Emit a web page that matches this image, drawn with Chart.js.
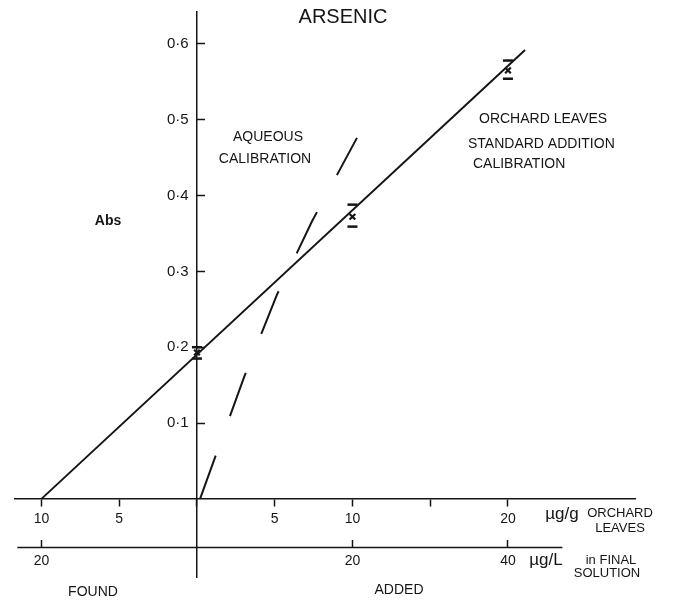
<!DOCTYPE html>
<html>
<head>
<meta charset="utf-8">
<script src="https://cdn.jsdelivr.net/npm/chart.js@4.4.1/dist/chart.umd.min.js"></script>
<style>
  body { margin: 0; background: #fff; }
</style>
</head>
<body>
<canvas id="mycanvas" width="675" height="603"></canvas>
<script>
// orchard leaves standard addition (µg/g added, Abs)
var lineX = [-10, 21.1];
var lineY = [0, 0.592];

// measured points with error bar ends
var pointX = [0, 10, 20];
var pointY = [0.193, 0.372, 0.565];
var pointHigh = [0.200, 0.388, 0.578];
var pointLow = [0.185, 0.359, 0.554];

// aqueous calibration (dashed)
var aqueousX = [0.2, 3.02, 5.14, 7.40, 10.29];
var aqueousY = [0, 0.160, 0.269, 0.366, 0.476];

// tick labels
var xTicks = [-10, -5, 0, 5, 10, 15, 20];
var xTickLabels = ['10', '5', '', '5', '10', '', '20'];
var x2Ticks = [-20, 20, 40];
var x2TickLabels = ['20', '20', '40'];
var yTicks = [0.1, 0.2, 0.3, 0.4, 0.5, 0.6];
var yTickLabels = ['0·1', '0·2', '0·3', '0·4', '0·5', '0·6'];

var ink = '#151515';
Chart.defaults.font.family = "'Liberation Sans', Arial, sans-serif";
Chart.defaults.color = ink;

function pts(xs, ys) {
  var out = [];
  for (var i in xs) out.push({x: xs[i], y: ys[i]});
  return out;
}

var xMin = -11.7, xMax = 28.17;

var textPlugin = {
  id: 'texts',
  afterDraw: function(chart) {
    var ctx = chart.ctx;
    var sx2 = chart.scales.x2, sy = chart.scales.y;
    ctx.save();
    // second (µg/L) axis line
    var yy = Math.round(sy.getPixelForValue(-0.064)) + 0.5;
    ctx.strokeStyle = ink;
    ctx.lineWidth = 1.5;
    ctx.beginPath();
    ctx.moveTo(sx2.getPixelForValue(-23.1), yy);
    ctx.lineTo(sx2.getPixelForValue(47), yy);
    ctx.stroke();

    ctx.fillStyle = ink;
    ctx.textBaseline = 'middle';
    function t(s, x, y, size, align, weight) {
      ctx.font = (weight || '') + ' ' + size + "px 'Liberation Sans', Arial, sans-serif";
      ctx.textAlign = align || 'center';
      ctx.fillText(s, x, y);
    }
    t('ARSENIC', 343, 17, 20);
    t('AQUEOUS', 268, 137, 14);
    t('CALIBRATION', 265, 159, 14);
    t('ORCHARD LEAVES', 479, 119, 14, 'left');
    t('STANDARD ADDITION', 468, 144, 14, 'left');
    t('CALIBRATION', 473, 164, 14, 'left');
    t('Abs', 108, 221, 14, 'center', 'bold');
    t('µg/g', 562, 514, 17);
    t('ORCHARD', 620, 513, 13);
    t('LEAVES', 620, 528, 13);
    t('µg/L', 546, 560, 17);
    t('in FINAL', 611, 560, 13);
    t('SOLUTION', 607, 573, 13);
    t('FOUND', 93, 592, 14);
    t('ADDED', 399, 590, 14);
    ctx.restore();
  }
};

var ctx = document.getElementById('mycanvas');
var chart = new Chart(ctx, {
  type: 'scatter',
  data: {
    datasets: [
      {
        label: 'standard addition',
        data: pts(lineX, lineY),
        showLine: true,
        borderColor: ink,
        borderWidth: 2,
        pointRadius: 0
      },
      {
        label: 'aqueous',
        data: pts(aqueousX, aqueousY),
        showLine: true,
        borderColor: ink,
        borderWidth: 2,
        borderDash: [46, 42],
        pointRadius: 0
      },
      {
        label: 'points',
        data: pts(pointX, pointY),
        pointStyle: 'crossRot',
        pointRadius: 4,
        borderColor: ink,
        borderWidth: 2.2
      },
      {
        label: 'high',
        data: pts(pointX, pointHigh),
        pointStyle: 'line',
        pointRadius: 5,
        borderColor: ink,
        borderWidth: 2.5
      },
      {
        label: 'low',
        data: pts(pointX, pointLow),
        pointStyle: 'line',
        pointRadius: 5,
        borderColor: ink,
        borderWidth: 2.5
      }
    ]
  },
  options: {
    responsive: false,
    animation: false,
    layout: { padding: { left: 15, right: 40, top: 8, bottom: 26 } },
    plugins: { legend: { display: false }, tooltip: { enabled: false } },
    scales: {
      x: {
        type: 'linear',
        min: xMin, max: xMax,
        position: { y: 0 },
        afterFit: function(s) { s.height = 0; },
        afterBuildTicks: function(s) { s.ticks = xTicks.map(function(v) { return {value: v}; }); },
        grid: { drawOnChartArea: false, tickLength: 7, tickWidth: 1.5, color: ink },
        border: { color: ink, width: 1.5 },
        ticks: {
          padding: 5,
          maxRotation: 0,
          font: { size: 14 },
          callback: function(v, i) { return xTickLabels[i]; }
        }
      },
      x2: {
        type: 'linear',
        axis: 'x',
        min: xMin * 2, max: xMax * 2,
        position: { y: -0.064 },
        afterFit: function(s) { s.height = 0; },
        afterBuildTicks: function(s) { s.ticks = x2Ticks.map(function(v) { return {value: v}; }); },
        grid: { drawOnChartArea: false, tickLength: -7, tickWidth: 1.5, color: ink },
        border: { display: false },
        ticks: {
          padding: 12,
          maxRotation: 0,
          font: { size: 14 },
          callback: function(v, i) { return x2TickLabels[i]; }
        }
      },
      y: {
        type: 'linear',
        min: -0.103, max: 0.642,
        position: { x: 0 },
        afterFit: function(s) { s.width = 0; },
        afterBuildTicks: function(s) { s.ticks = yTicks.map(function(v) { return {value: v}; }); },
        grid: { drawOnChartArea: false, tickLength: -9, tickWidth: 1.5, color: ink },
        border: { color: ink, width: 1.5 },
        ticks: {
          font: { size: 15 },
          callback: function(v, i) { return yTickLabels[i] + '  '; }
        }
      }
    }
  },
  plugins: [textPlugin]
});
</script>
</body>
</html>
